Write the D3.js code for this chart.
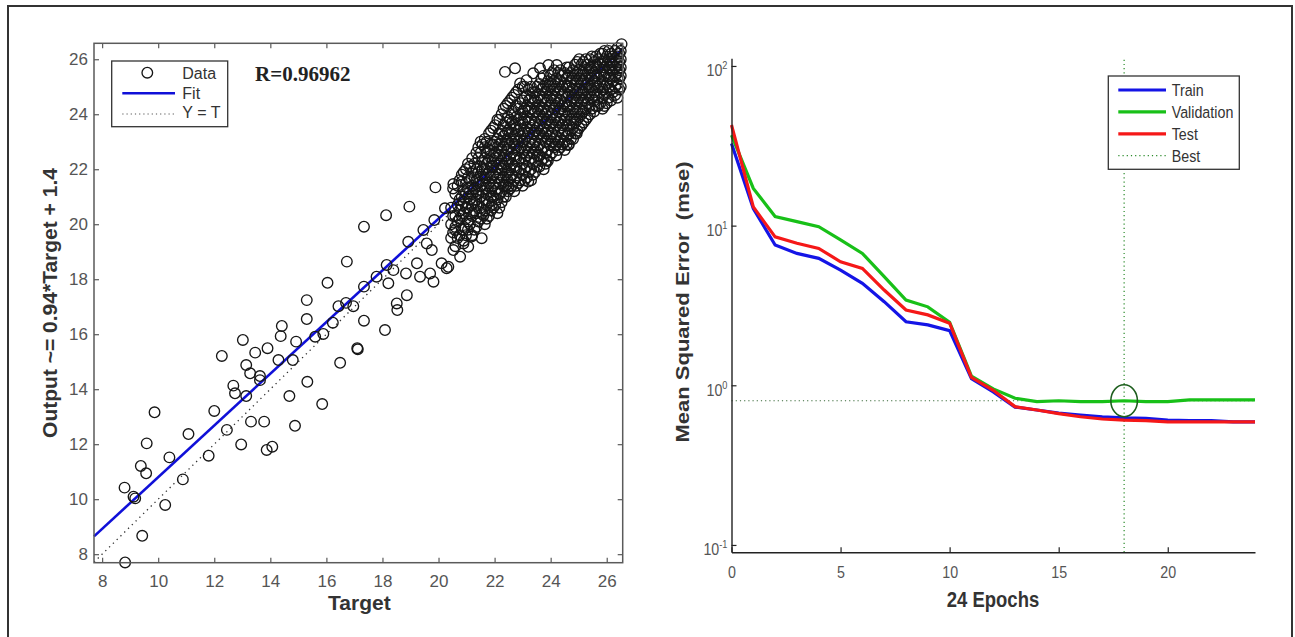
<!DOCTYPE html>
<html>
<head>
<meta charset="utf-8">
<script src="https://cdn.jsdelivr.net/npm/d3@7"></script>
<style>
  body { margin: 0; background: #ffffff; }
  svg text { font-family: "Liberation Sans", Arial, sans-serif; }
</style>
</head>
<body>
<div id="figure"></div>
<script>
// ---- regression panel data ----
const rLabel = "R=0.96962"
const fitSlope = 0.94
const fitIntercept = 1.4
const targetTicks = [8, 10, 12, 14, 16, 18, 20, 22, 24, 26]
const outputTicks = [8, 10, 12, 14, 16, 18, 20, 22, 24, 26]

// scattered points outside the dense cloud [target, output]
const sparsePoints = [
  [8.80,10.42],[9.12,10.09],[9.18,10.03],[9.38,11.21],[9.57,10.94],[9.59,12.03],[9.87,13.16],
  [9.43,8.67],[8.82,7.70],[10.25,9.79],[10.40,11.52],[11.08,12.37],[10.88,10.72],[11.80,11.58],
  [12.0,13.21],[12.45,12.52],[12.68,14.13],[12.74,13.85],[13.14,13.75],[12.96,11.99],[13.31,12.82],
  [13.78,12.82],[13.87,11.79],[14.07,11.91],[13.63,14.33],[14.68,13.75],[14.88,12.67],[15.32,14.27],
  [15.85,13.46],[12.27,15.21],[13.02,15.79],[13.46,15.33],[13.90,15.49],[14.41,16.30],[14.37,15.93],
  [13.14,14.88],[13.28,14.58],[13.63,14.48],[14.29,15.06],[14.92,15.73],[14.80,15.06],[15.30,17.24],
  [15.30,16.55],[15.60,15.91],[15.89,16.01],[16.04,17.87],[16.23,16.42],[16.43,17.02],[16.73,18.64],
  [16.70,17.14],[16.96,17.02],[17.34,16.49],[17.34,17.73],[17.34,19.91],[16.49,14.96],[17.10,15.49],
  [17.12,15.45],[18.09,16.15],[18.13,20.33],[18.96,20.64],[17.79,18.09],[18.15,18.52],[18.39,18.33],
  [18.21,17.85],[18.51,17.12],[18.53,16.88],[18.87,17.42],[18.84,18.21],[18.92,19.36],[19.23,18.58],
  [19.34,18.09],[19.46,19.79],[19.58,19.30],[19.82,17.91],[19.76,19.06],[19.89,21.34],[20.11,18.58],
  [20.29,18.40],[20.53,19.06],[20.53,21.46],[20.59,19.79],[19.85,20.15],[20.23,20.58],[20.77,18.82],
  [20.35,18.45],[20.89,19.30],[21.18,19.55],[21.54,19.49],[21.06,19.18],[19.70,18.21],[20.83,21.55],
  [21.60,20.33],[21.90,20.70],[22.19,21.11],[22.49,21.36],[23.20,21.55],[23.86,22.33],[24.93,23.30],
  [24.63,22.88],[24.27,23.00],[22.37,25.54],[22.73,25.67],[23.38,25.49],[23.62,25.67],[23.92,25.79],
  [24.22,25.79],[22.91,25.12],[23.14,25.24],[26.53,26.55]
]

// dense cloud, read column by column: [target, [outputs]]
const cloudColumns = [
  [20.45, [19.5, 20.0, 20.6]],
  [20.6, [19.2, 19.9, 20.3, 21.1]],
  [20.75, [19.6, 20.2, 20.5, 20.9, 21.6]],
  [20.9, [19.4, 19.9, 20.4, 20.8, 21.2, 21.9]],
  [21.05, [19.8, 20.1, 20.6, 21.0, 21.3, 21.7, 22.2]],
  [21.2, [19.6, 20.3, 20.7, 21.1, 21.4, 21.9, 22.4]],
  [21.35, [19.9, 20.4, 20.9, 21.2, 21.6, 22.0, 22.6]],
  [21.5, [20.2, 20.6, 21.0, 21.4, 21.8, 22.1, 22.6, 23.0]],
  [21.65, [20.0, 20.5, 20.9, 21.3, 21.7, 22.0, 22.4, 22.8, 23.1]],
  [21.8, [20.3, 20.8, 21.2, 21.5, 21.9, 22.3, 22.7, 23.3]],
  [21.95, [20.6, 21.0, 21.4, 21.8, 22.1, 22.5, 22.9, 23.5]],
  [22.1, [20.4, 20.9, 21.3, 21.7, 22.0, 22.4, 22.8, 23.1, 23.8]],
  [22.25, [20.8, 21.2, 21.6, 22.0, 22.3, 22.7, 23.0, 23.4, 24.0]],
  [22.4, [21.0, 21.4, 21.8, 22.2, 22.5, 22.9, 23.3, 23.7, 24.3]],
  [22.55, [21.3, 21.7, 22.0, 22.4, 22.8, 23.1, 23.5, 23.8, 24.5]],
  [22.7, [21.2, 21.6, 22.1, 22.5, 22.9, 23.2, 23.6, 24.0, 24.7]],
  [22.85, [21.5, 21.9, 22.3, 22.7, 23.0, 23.4, 23.8, 24.2, 24.9]],
  [23.0, [21.4, 21.8, 22.2, 22.6, 23.0, 23.3, 23.7, 24.1, 24.5, 25.0]],
  [23.15, [21.7, 22.1, 22.5, 22.8, 23.2, 23.5, 23.9, 24.3, 24.7]],
  [23.3, [21.6, 22.0, 22.4, 22.8, 23.1, 23.5, 23.8, 24.2, 24.6, 25.0]],
  [23.45, [21.9, 22.3, 22.7, 23.0, 23.4, 23.7, 24.1, 24.5, 24.8]],
  [23.6, [22.1, 22.5, 22.9, 23.3, 23.6, 24.0, 24.3, 24.7, 25.1]],
  [23.75, [22.0, 22.4, 22.8, 23.2, 23.5, 23.9, 24.2, 24.6, 25.0, 25.4]],
  [23.9, [22.3, 22.7, 23.1, 23.4, 23.8, 24.1, 24.5, 24.9, 25.2]],
  [24.05, [22.6, 23.0, 23.3, 23.7, 24.0, 24.4, 24.7, 25.1, 25.5]],
  [24.2, [22.5, 22.9, 23.2, 23.6, 23.9, 24.3, 24.6, 25.0, 25.3]],
  [24.35, [22.8, 23.1, 23.5, 23.8, 24.2, 24.5, 24.9, 25.2, 25.6]],
  [24.5, [22.7, 23.0, 23.4, 23.8, 24.1, 24.4, 24.8, 25.1, 25.5]],
  [24.65, [22.9, 23.3, 23.6, 24.0, 24.3, 24.7, 25.0, 25.4, 25.7]],
  [24.8, [23.1, 23.5, 23.9, 24.2, 24.6, 24.9, 25.3, 25.6]],
  [24.95, [23.4, 23.8, 24.1, 24.5, 24.8, 25.2, 25.5, 25.9]],
  [25.1, [23.6, 24.0, 24.4, 24.7, 25.1, 25.4, 25.8]],
  [25.25, [23.8, 24.2, 24.6, 24.9, 25.3, 25.6, 26.0]],
  [25.4, [24.0, 24.3, 24.7, 25.0, 25.4, 25.7, 26.0]],
  [25.55, [24.1, 24.5, 24.8, 25.2, 25.5, 25.9]],
  [25.7, [24.3, 24.6, 25.0, 25.3, 25.7, 26.0]],
  [25.85, [24.2, 24.6, 24.9, 25.2, 25.6, 25.9, 26.2]],
  [26.0, [24.4, 24.8, 25.1, 25.5, 25.8, 26.1]],
  [26.15, [24.5, 24.9, 25.3, 25.6, 25.9, 26.2]],
  [26.3, [24.7, 25.0, 25.4, 25.7, 26.0, 26.3]],
  [26.45, [24.9, 25.3, 25.6, 25.9, 26.2]]
]

// second pass over the cloud, between the columns above
const cloudColumnsB = [
  [20.52, [19.7, 20.3, 21.3]],
  [20.68, [19.5, 20.1, 20.7, 21.4]],
  [20.83, [19.8, 20.3, 20.7, 21.0, 21.8]],
  [20.98, [19.6, 20.2, 20.6, 21.1, 21.5, 22.0]],
  [21.12, [20.0, 20.4, 20.9, 21.2, 21.6, 22.1]],
  [21.28, [19.8, 20.5, 20.8, 21.3, 21.7, 22.2]],
  [21.42, [20.1, 20.7, 21.1, 21.5, 21.9, 22.4, 22.8]],
  [21.57, [20.4, 20.8, 21.2, 21.6, 22.0, 22.3, 22.9]],
  [21.72, [20.2, 20.7, 21.1, 21.4, 21.8, 22.2, 22.6, 23.0]],
  [21.87, [20.5, 21.0, 21.3, 21.7, 22.1, 22.4, 22.9, 23.4]],
  [22.02, [20.7, 21.2, 21.5, 21.9, 22.3, 22.6, 23.0, 23.6]],
  [22.17, [20.6, 21.1, 21.5, 21.8, 22.2, 22.5, 22.9, 23.3, 23.8]],
  [22.32, [21.0, 21.4, 21.7, 22.1, 22.4, 22.8, 23.2, 23.6, 24.2]],
  [22.47, [21.2, 21.6, 21.9, 22.3, 22.7, 23.0, 23.4, 23.9, 24.4]],
  [22.62, [21.4, 21.8, 22.2, 22.6, 23.0, 23.3, 23.7, 24.1, 24.6]],
  [22.77, [21.4, 21.7, 22.0, 22.4, 22.8, 23.1, 23.5, 23.9, 24.3, 24.8]],
  [22.92, [21.6, 22.0, 22.4, 22.8, 23.2, 23.6, 24.0, 24.4]],
  [23.07, [21.6, 22.0, 22.4, 22.7, 23.1, 23.4, 23.8, 24.2, 24.6, 25.0]],
  [23.22, [21.9, 22.3, 22.6, 23.0, 23.3, 23.7, 24.1, 24.5, 24.9]],
  [23.37, [21.8, 22.2, 22.6, 22.9, 23.3, 23.6, 24.0, 24.4, 24.8]],
  [23.52, [22.1, 22.5, 22.8, 23.2, 23.5, 23.9, 24.2, 24.6, 25.0]],
  [23.67, [22.3, 22.7, 23.1, 23.4, 23.8, 24.1, 24.5, 24.9, 25.3]],
  [23.82, [22.2, 22.6, 23.0, 23.3, 23.7, 24.0, 24.4, 24.8, 25.1]],
  [23.97, [22.5, 22.9, 23.2, 23.6, 23.9, 24.3, 24.6, 25.0, 25.4]],
  [24.12, [22.8, 23.1, 23.5, 23.8, 24.2, 24.5, 24.9, 25.2, 25.6]],
  [24.27, [22.7, 23.0, 23.4, 23.7, 24.1, 24.4, 24.8, 25.1, 25.5]],
  [24.42, [22.9, 23.3, 23.6, 24.0, 24.3, 24.7, 25.0, 25.4]],
  [24.57, [22.9, 23.2, 23.6, 23.9, 24.3, 24.6, 25.0, 25.3, 25.7]],
  [24.72, [23.1, 23.4, 23.8, 24.1, 24.5, 24.8, 25.2, 25.5]],
  [24.87, [23.3, 23.7, 24.0, 24.4, 24.7, 25.1, 25.4, 25.8]],
  [25.02, [23.5, 23.9, 24.2, 24.6, 24.9, 25.3, 25.6, 26.0]],
  [25.17, [23.7, 24.1, 24.5, 24.8, 25.2, 25.5, 25.9]],
  [25.32, [23.9, 24.4, 24.8, 25.1, 25.5, 25.8]],
  [25.47, [24.2, 24.6, 24.9, 25.3, 25.6, 26.1]],
  [25.62, [24.3, 24.7, 25.1, 25.4, 25.8, 26.1]],
  [25.77, [24.4, 24.8, 25.1, 25.5, 25.8, 26.2]],
  [25.92, [24.3, 24.7, 25.0, 25.4, 25.7, 26.0, 26.3]],
  [26.07, [24.6, 25.0, 25.4, 25.7, 26.0, 26.3]],
  [26.22, [24.8, 25.2, 25.5, 25.8, 26.1]],
  [26.38, [24.6, 25.1, 25.5, 25.8, 26.1, 26.4]],
  [26.5, [25.0, 25.4, 25.7, 26.0, 26.3]]
]

// ---- performance panel data ----
const epochs = [0,1,2,3,4,5,6,7,8,9,10,11,12,13,14,15,16,17,18,19,20,21,22,23,24]
const trainMse = [32.7,12.8,7.56,6.7,6.24,5.27,4.35,3.34,2.50,2.39,2.20,1.10,0.91,0.73,0.70,0.67,0.65,0.635,0.625,0.62,0.605,0.60,0.60,0.59,0.59]
const validationMse = [36.9,17.1,11.4,10.6,9.85,8.13,6.7,4.79,3.42,3.10,2.48,1.14,0.95,0.83,0.79,0.80,0.79,0.79,0.80,0.79,0.79,0.81,0.81,0.81,0.81]
const testMse = [42.7,13.1,8.5,7.75,7.2,5.94,5.4,3.95,2.96,2.76,2.45,1.12,0.93,0.735,0.70,0.665,0.635,0.615,0.605,0.60,0.59,0.59,0.59,0.59,0.59]
const bestEpoch = 18
const bestMse = 0.80
const epochTicks = [0, 5, 10, 15, 20]
const mseTicks = [0.1, 1, 10, 100]
const mseExponents = ["-1", "0", "1", "2"]

function drawFigure() {
    const svg = d3.select("#figure")
        .append("svg")
            .attr("width", 1295)
            .attr("height", 637)

    // outer frame
    svg.append("rect")
        .attr("x", 8).attr("y", 6)
        .attr("width", 1284).attr("height", 640)
        .attr("fill", "none")
        .attr("stroke", "#333")
        .attr("stroke-width", 2)

  // ===== Regression panel =====
    const left = { x0: 94, x1: 622.7, y0: 43.3, y1: 562.7 }

    const xScale = d3.scaleLinear()
        .domain([7.71, 26.57])
        .range([left.x0, left.x1])
    const yScale = d3.scaleLinear()
        .domain([7.69, 26.58])
        .range([left.y1, left.y0])

    const reg = svg.append("g")

    svg.append("defs").append("clipPath").attr("id", "regClip")
        .append("rect")
            .attr("x", left.x0).attr("y", left.y0)
            .attr("width", left.x1 - left.x0).attr("height", left.y1 - left.y0)

    const [dx0, dx1] = xScale.domain()
    // Y = T
    reg.append("line")
        .attr("x1", xScale(dx0)).attr("y1", yScale(dx0))
        .attr("x2", xScale(dx1)).attr("y2", yScale(dx1))
        .attr("clip-path", "url(#regClip)")
        .attr("stroke", "#333")
        .attr("stroke-width", 1.3)
        .attr("stroke-dasharray", "1.3,4")
    // fit
    reg.append("line")
        .attr("x1", xScale(dx0)).attr("y1", yScale(fitSlope * dx0 + fitIntercept))
        .attr("x2", xScale(dx1)).attr("y2", yScale(fitSlope * dx1 + fitIntercept))
        .attr("stroke", "#1010d8")
        .attr("stroke-width", 2.6)

    const toPairs = cols => cols.flatMap(([t, outs]) => outs.map(o => [t, o]))
    const allPoints = sparsePoints
        .concat(toPairs(cloudColumns))
        .concat(toPairs(cloudColumnsB))
    reg.append("g")
        .selectAll("circle")
        .data(allPoints)
        .join("circle")
            .attr("cx", d => xScale(d[0]))
            .attr("cy", d => yScale(d[1]))
            .attr("r", 5.3)
            .attr("fill", "none")
            .attr("stroke", "#161616")
            .attr("stroke-width", 1.35)

    // axes (MATLAB box: ticks inward on all four sides)
    const axisColor = "#5a5a5a"
    const styleAxis = g => {
        g.select(".domain").remove()
        g.selectAll("line").attr("stroke", axisColor).attr("stroke-width", 1.2)
        g.selectAll("text")
            .attr("fill", "#555")
            .style("font-size", "17px")
    }
    reg.append("g")
        .attr("transform", `translate(0,${left.y1})`)
        .call(d3.axisBottom(xScale).tickValues(targetTicks).tickSize(-5).tickPadding(12.5))
        .call(styleAxis)
    reg.append("g")
        .attr("transform", `translate(0,${left.y0})`)
        .call(d3.axisTop(xScale).tickValues(targetTicks).tickSize(-5).tickFormat(""))
        .call(styleAxis)
    reg.append("g")
        .attr("transform", `translate(${left.x0},0)`)
        .call(d3.axisLeft(yScale).tickValues(outputTicks).tickSize(-5).tickPadding(6))
        .call(styleAxis)
    reg.append("g")
        .attr("transform", `translate(${left.x1},0)`)
        .call(d3.axisRight(yScale).tickValues(outputTicks).tickSize(-5).tickFormat(""))
        .call(styleAxis)

    reg.append("rect")
        .attr("x", left.x0).attr("y", left.y0)
        .attr("width", left.x1 - left.x0).attr("height", left.y1 - left.y0)
        .attr("fill", "none")
        .attr("stroke", axisColor)
        .attr("stroke-width", 1.5)

    reg.append("text")
        .attr("x", (left.x0 + left.x1) / 2 + 1)
        .attr("y", 610)
        .attr("text-anchor", "middle")
        .attr("font-weight", "bold")
        .attr("fill", "#333")
        .style("font-size", "21px")
        .text("Target")
    reg.append("text")
        .attr("transform", `translate(57,${(left.y0 + left.y1) / 2}) rotate(-90)`)
        .attr("text-anchor", "middle")
        .attr("font-weight", "bold")
        .attr("fill", "#333")
        .style("font-size", "21px")
        .text("Output ~= 0.94*Target + 1.4")

    reg.append("text")
        .attr("x", 255)
        .attr("y", 80.5)
        .attr("font-weight", "bold")
        .attr("fill", "#222")
        .style("font-family", "'Liberation Serif', 'Times New Roman', serif")
        .style("font-size", "21px")
        .text(rLabel)

    // legend
    const legL = reg.append("g")
    legL.append("rect")
        .attr("x", 111.7).attr("y", 61)
        .attr("width", 116).attr("height", 65.7)
        .attr("fill", "#fff")
        .attr("stroke", "#333")
        .attr("stroke-width", 1.3)
    legL.append("circle")
        .attr("cx", 147.3).attr("cy", 72.7).attr("r", 5.3)
        .attr("fill", "none").attr("stroke", "#161616").attr("stroke-width", 1.35)
    legL.append("line")
        .attr("x1", 122.3).attr("x2", 175).attr("y1", 93.3).attr("y2", 93.3)
        .attr("stroke", "#1010d8").attr("stroke-width", 2.6)
    legL.append("line")
        .attr("x1", 122.3).attr("x2", 175).attr("y1", 114).attr("y2", 114)
        .attr("stroke", "#555").attr("stroke-width", 1.2).attr("stroke-dasharray", "1.2,3")
    legL.selectAll(".legText")
        .data(["Data", "Fit", "Y = T"])
        .join("text")
            .attr("x", 182.3)
            .attr("y", (d, i) => 79.3 + i * 19.5)
            .attr("fill", "#333")
            .style("font-size", "16px")
            .text(d => d)

  // ===== Performance panel =====
    const right = { x0: 731.5, x1: 1255, y0: 58.3, y1: 552.3 }
    const squeeze = 0.84

    const eScale = d3.scaleLinear()
        .domain([0, 24])
        .range([right.x0, right.x1])
    const mScale = d3.scaleLog()
        .domain([Math.pow(10, -1.046), Math.pow(10, 2.048)])
        .range([right.y1, right.y0])

    const perf = svg.append("g")

    // best markers
    const bestColor = "#2a8a2a"
    perf.append("line")
        .attr("x1", eScale(bestEpoch)).attr("x2", eScale(bestEpoch))
        .attr("y1", right.y1).attr("y2", right.y0)
        .attr("stroke", bestColor).attr("stroke-width", 1.2).attr("stroke-dasharray", "1.2,3")
    perf.append("line")
        .attr("x1", right.x0).attr("x2", right.x1)
        .attr("y1", mScale(bestMse)).attr("y2", mScale(bestMse))
        .attr("stroke", "#3a6a3a").attr("stroke-width", 1.2).attr("stroke-dasharray", "1.2,3")

    const series = [
        { name: "Train", values: trainMse, color: "#1414e6" },
        { name: "Validation", values: validationMse, color: "#18c018" },
        { name: "Test", values: testMse, color: "#f51818" },
    ]
    const lineGenerator = d3.line()
        .x((d, i) => eScale(epochs[i]))
        .y(d => mScale(d))
    perf.selectAll(".mseLine")
        .data(series)
        .join("path")
            .attr("d", d => lineGenerator(d.values))
            .attr("fill", "none")
            .attr("stroke", d => d.color)
            .attr("stroke-width", 3.2)

    perf.append("ellipse")
        .attr("cx", eScale(bestEpoch)).attr("cy", mScale(bestMse))
        .attr("rx", 13.3).attr("ry", 16)
        .attr("fill", "none")
        .attr("stroke", "#1d5e1d")
        .attr("stroke-width", 1.6)

    // axes: only left and bottom
    const xAxis = perf.append("g")
        .attr("transform", `translate(0,${right.y1})`)
        .call(d3.axisBottom(eScale).tickValues(epochTicks).tickSize(-5).tickSizeOuter(0).tickPadding(14))
    xAxis.select(".domain").attr("stroke", "#222").attr("stroke-width", 1.4)
    xAxis.selectAll("line").attr("stroke", "#222").attr("stroke-width", 1.2)
    xAxis.selectAll("text")
        .attr("fill", "#555")
        .attr("transform", `scale(${squeeze},1)`)
        .style("font-size", "17px")

    const yAxis = perf.append("g")
        .attr("transform", `translate(${right.x0},0)`)
        .call(d3.axisLeft(mScale).tickValues(mseTicks).tickSize(-5).tickSizeOuter(0).tickFormat(""))
    yAxis.select(".domain").attr("stroke", "#222").attr("stroke-width", 1.4)
    yAxis.selectAll("line").attr("stroke", "#222").attr("stroke-width", 1.2)
    const yLab = yAxis.selectAll(".tick")
        .append("text")
            .attr("transform", `translate(-4,10) scale(${squeeze},1)`)
            .attr("text-anchor", "end")
            .attr("fill", "#555")
            .style("font-size", "17px")
    yLab.append("tspan").text("10")
    yLab.append("tspan")
        .attr("dy", -7)
        .style("font-size", "11px")
        .text((d, i) => mseExponents[i])

    perf.append("text")
        .attr("transform", `translate(993,607) scale(${squeeze},1)`)
        .attr("text-anchor", "middle")
        .attr("font-weight", "bold")
        .attr("fill", "#333")
        .style("font-size", "22px")
        .text("24 Epochs")
    perf.append("text")
        .attr("transform", `translate(689,302) rotate(-90) scale(1,${squeeze})`)
        .attr("text-anchor", "middle")
        .attr("font-weight", "bold")
        .attr("fill", "#333")
        .style("font-size", "22px")
        .style("white-space", "pre")
        .text("Mean Squared Error  (mse)")

    // legend
    const legR = perf.append("g")
    legR.append("rect")
        .attr("x", 1108.3).attr("y", 76)
        .attr("width", 131).attr("height", 93.3)
        .attr("fill", "#fff")
        .attr("stroke", "#333")
        .attr("stroke-width", 1.3)
    const legItems = series.concat([{ name: "Best", color: bestColor, dotted: true }])
    const legRow = legR.selectAll(".legRow")
        .data(legItems)
        .join("g")
            .attr("transform", (d, i) => `translate(0,${90 + i * 21.9})`)
    legRow.append("line")
        .attr("x1", 1118.3).attr("x2", 1166)
        .attr("stroke", d => d.color)
        .attr("stroke-width", d => d.dotted ? 1.2 : 3.2)
        .attr("stroke-dasharray", d => d.dotted ? "1.2,3" : null)
    legRow.append("text")
        .attr("transform", `translate(1171.7,6) scale(${squeeze},1)`)
        .attr("fill", "#333")
        .style("font-size", "17px")
        .text(d => d.name)
}

drawFigure()
</script>
</body>
</html>
